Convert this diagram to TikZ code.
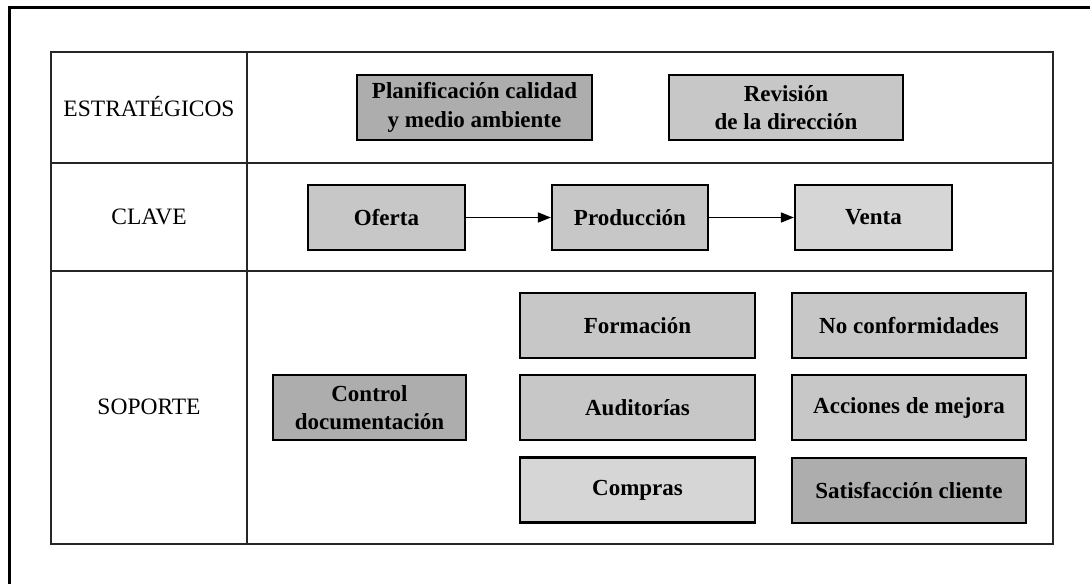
\documentclass[tikz,border=0pt]{standalone}
\usepackage{fontspec}
\setmainfont{Liberation Serif}
\usetikzlibrary{arrows.meta}
\begin{document}
\begin{tikzpicture}[x=1pt,y=-1pt,
  grid/.style={line width=2pt,black!85},
  frame/.style={line width=3pt,black},
  lbl/.style={font=\fontsize{23.5}{27}\selectfont, align=center},
  proc/.style={draw=black, line width=2.2pt, fill=black!22, font=\bfseries\fontsize{23}{28.5}\selectfont, align=center, inner sep=0pt},
  procd/.style={proc, fill=black!32},
  flow/.style={line width=1.6pt, -{Triangle[length=13pt,width=10pt]}}]
\useasboundingbox (0,0) rectangle (1090,584);
% open outer frame (top and left)
\coordinate (fTR) at (1090,7);
\coordinate (fTL) at (9,7);
\coordinate (fBL) at (9,584);
\draw[frame] (fTR) -- (fTL) -- (fBL);
% table
\draw[grid] (51,52) rectangle (1053,544);
\draw[grid] (247,52) -- (247,544);
\draw[grid] (51,163) -- (1053,163);
\draw[grid] (51,271) -- (1053,271);
% row labels
\node[lbl] (lEst) at (149,107) {ESTRATÉGICOS};
\node[lbl] (lCla) at (149,217) {CLAVE};
\node[lbl] (lSop) at (149,407) {SOPORTE};
% strategic
\node[procd, minimum width=235pt, minimum height=65pt] (plan) at (474.5,107.5) {Planificación calidad\\y medio ambiente};
\node[proc, minimum width=234pt, minimum height=65pt] (rev) at (786,107.5) {Revisión\\de la dirección};
% key
\node[proc, minimum width=157pt, minimum height=65pt] (ofe) at (386.5,217.5) {Oferta};
\node[proc, minimum width=156pt, minimum height=65pt] (pro) at (630,217.5) {Producción};
\node[proc, fill=black!16, minimum width=157pt, minimum height=65pt] (ven) at (873.5,217.5) {Venta};
\draw[flow] (ofe) -- (pro);
\draw[flow] (pro) -- (ven);
% support
\node[procd, minimum width=193pt, minimum height=65pt] (ctl) at (369.5,407.5) {Control\\documentación};
\node[proc, minimum width=235pt, minimum height=65pt] (for) at (637.5,325.5) {Formación};
\node[proc, minimum width=235pt, minimum height=65pt] (aud) at (637.5,407.5) {Auditorías};
\node[proc, fill=black!16, minimum width=235pt, minimum height=65pt] (com) at (637.5,490) {Compras};
\node[proc, minimum width=234pt, minimum height=65pt] (noc) at (909,325.5) {No conformidades};
\node[proc, minimum width=234pt, minimum height=65pt] (acc) at (909,407.5) {Acciones de mejora};
\node[procd, minimum width=234pt, minimum height=65pt] (sat) at (909,490.5) {Satisfacción cliente};
\end{tikzpicture}
\end{document}
